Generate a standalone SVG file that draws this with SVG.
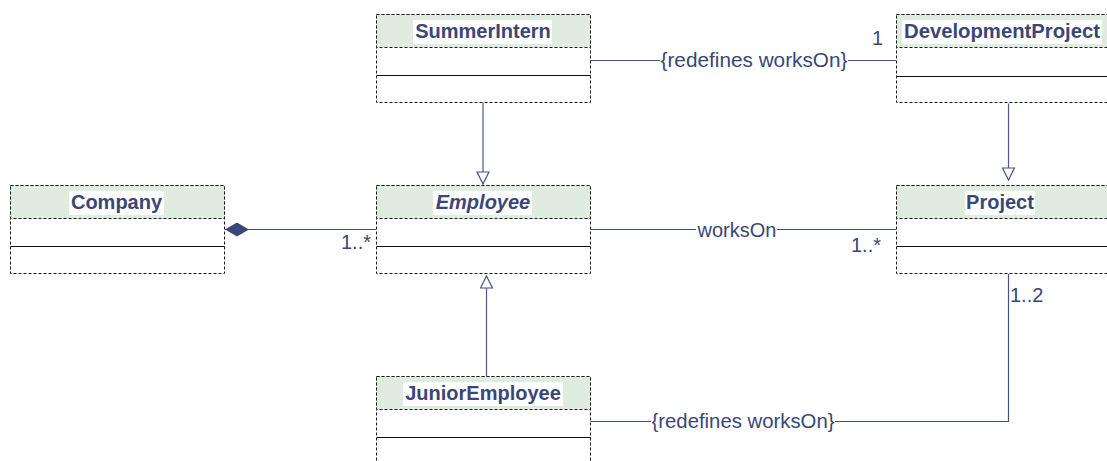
<svg xmlns="http://www.w3.org/2000/svg" width="1107" height="461" viewBox="0 0 1107 461">
<defs>
<style>
.box{fill:#ffffff;stroke:#1a1a1a;stroke-width:1;stroke-dasharray:3 2}
.hdr{fill:#e1ece0;stroke:#1a1a1a;stroke-width:1;stroke-dasharray:3 2}
.sep{stroke:#111111;stroke-width:1.2}
.tbg{fill:#ffffff}
.title{font-family:"Liberation Sans",Arial,sans-serif;font-size:20px;font-weight:bold;fill:#3a4677;text-anchor:middle}
.lbl{font-family:"Liberation Sans",Arial,sans-serif;font-size:20px;fill:#3a4677}
.conn{fill:none;stroke:#44528a;stroke-width:1.2}
.gen{fill:none;stroke:#4a5890;stroke-width:1.2}
</style>
<marker id="tri" markerUnits="userSpaceOnUse" viewBox="-1 -1 14 14" markerWidth="14" markerHeight="14" refX="12" refY="6" orient="auto">
<path d="M0,0 L12,6 L0,12 Z" fill="#ffffff" stroke="#44528a" stroke-width="1.2"/>
</marker>
<marker id="dia" markerUnits="userSpaceOnUse" viewBox="0 0 24 14" markerWidth="24" markerHeight="14" refX="0" refY="7" orient="auto">
<path d="M0,7 L12,0 L24,7 L12,14 Z" fill="#3a4677"/>
</marker>
</defs>

<g id="connectors">
<path class="gen" d="M483,102.5 V184" marker-end="url(#tri)"/>
<path class="gen" d="M1008.5,103.5 V180" marker-end="url(#tri)"/>
<path class="gen" d="M486.5,376 V276" marker-end="url(#tri)"/>
<path class="conn" d="M225,229.5 H376" marker-start="url(#dia)"/>
<text class="lbl" x="371" y="249" text-anchor="end">1..*</text>
<path class="conn" d="M590,229.5 H896"/>
<rect class="tbg" x="696" y="218" width="81" height="22"/>
<text class="lbl" x="737" y="237" text-anchor="middle">worksOn</text>
<text class="lbl" x="881" y="252" text-anchor="end">1..*</text>
<path class="conn" d="M590,60.5 H896"/>
<rect class="tbg" x="660" y="49" width="188" height="22"/>
<text class="lbl" x="754" y="67" text-anchor="middle" textLength="187" lengthAdjust="spacingAndGlyphs">{redefines worksOn}</text>
<text class="lbl" x="883" y="45" text-anchor="end">1</text>
<path class="conn" d="M590,421.5 H1008.5 V274"/>
<rect class="tbg" x="651" y="410" width="184" height="22"/>
<text class="lbl" x="743" y="428" text-anchor="middle" textLength="183" lengthAdjust="spacingAndGlyphs">{redefines worksOn}</text>
<text class="lbl" x="1010" y="302">1..2</text>
</g>

<g id="SummerIntern">
<rect class="box" x="376.5" y="14.5" width="214" height="88"/>
<rect class="hdr" x="376.5" y="14.5" width="214" height="33"/>
<line class="sep" x1="376.5" y1="75.5" x2="590.5" y2="75.5"/>
<rect class="tbg" x="413" y="20" width="139" height="24"/>
<text class="title" x="483" y="38">SummerIntern</text>
</g>

<g id="DevelopmentProject">
<rect class="box" x="896.5" y="14.5" width="214" height="88"/>
<rect class="hdr" x="896.5" y="14.5" width="214" height="33"/>
<line class="sep" x1="896.5" y1="76.5" x2="1110.5" y2="76.5"/>
<rect class="tbg" x="902" y="20" width="200" height="24"/>
<text class="title" x="1002" y="38" textLength="196" lengthAdjust="spacingAndGlyphs">DevelopmentProject</text>
</g>

<g id="Company">
<rect class="box" x="10.5" y="185.5" width="214" height="88"/>
<rect class="hdr" x="10.5" y="185.5" width="214" height="33"/>
<line class="sep" x1="10.5" y1="246.5" x2="224.5" y2="246.5"/>
<rect class="tbg" x="69" y="191" width="95" height="24"/>
<text class="title" x="116.5" y="209">Company</text>
</g>

<g id="Employee">
<rect class="box" x="376.5" y="185.5" width="214" height="88"/>
<rect class="hdr" x="376.5" y="185.5" width="214" height="33"/>
<line class="sep" x1="376.5" y1="246.5" x2="590.5" y2="246.5"/>
<rect class="tbg" x="433" y="191" width="99" height="24"/>
<text class="title" x="483" y="209" font-style="italic">Employee</text>
</g>

<g id="Project">
<rect class="box" x="896.5" y="185.5" width="214" height="88"/>
<rect class="hdr" x="896.5" y="185.5" width="214" height="33"/>
<line class="sep" x1="896.5" y1="246.5" x2="1110.5" y2="246.5"/>
<rect class="tbg" x="965" y="191" width="70" height="24"/>
<text class="title" x="1000" y="209">Project</text>
</g>

<g id="JuniorEmployee">
<rect class="box" x="376.5" y="376.5" width="214" height="88"/>
<rect class="hdr" x="376.5" y="376.5" width="214" height="33"/>
<line class="sep" x1="376.5" y1="437.5" x2="590.5" y2="437.5"/>
<rect class="tbg" x="403" y="382" width="160" height="24"/>
<text class="title" x="483" y="400">JuniorEmployee</text>
</g>
</svg>
